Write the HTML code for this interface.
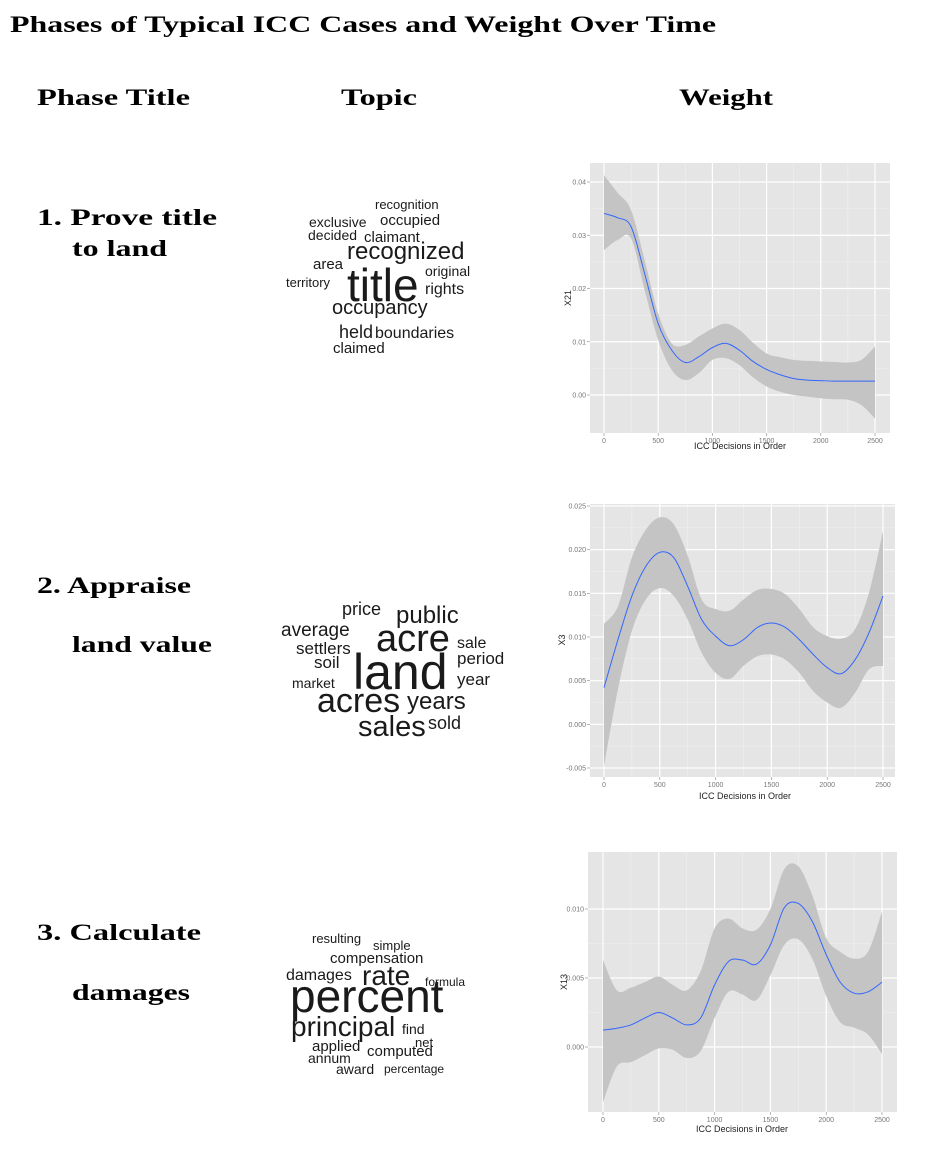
<!DOCTYPE html>
<html><head><meta charset="utf-8"><style>
html,body{margin:0;padding:0;background:#fff;}
svg{display:block;}
.hd{font-family:"Liberation Serif",serif;font-weight:bold;fill:#000;}
.wc{font-family:"Liberation Sans",sans-serif;fill:#1a1a1a;}
.tk{font-family:"Liberation Sans",sans-serif;font-size:7px;fill:#777;}
.at{font-family:"Liberation Sans",sans-serif;font-size:9px;fill:#222;}
</style></head><body>
<svg id="page" width="925" height="1151" viewBox="0 0 925 1151" xmlns="http://www.w3.org/2000/svg">
<text class="hd" x="10" y="32" font-size="23" textLength="706" lengthAdjust="spacingAndGlyphs">Phases of Typical ICC Cases and Weight Over Time</text>
<text class="hd" x="37" y="105" font-size="23" textLength="153" lengthAdjust="spacingAndGlyphs">Phase Title</text>
<text class="hd" x="341" y="105" font-size="23" textLength="76" lengthAdjust="spacingAndGlyphs">Topic</text>
<text class="hd" x="679" y="105" font-size="23" textLength="94" lengthAdjust="spacingAndGlyphs">Weight</text>

<text class="hd" x="37" y="225" font-size="23" textLength="180" lengthAdjust="spacingAndGlyphs">1. Prove title</text>
<text class="hd" x="72" y="256" font-size="23" textLength="95" lengthAdjust="spacingAndGlyphs">to land</text>
<text class="hd" x="37" y="593" font-size="23" textLength="154" lengthAdjust="spacingAndGlyphs">2. Appraise</text>
<text class="hd" x="72" y="652" font-size="23" textLength="140" lengthAdjust="spacingAndGlyphs">land value</text>
<text class="hd" x="37" y="940" font-size="23" textLength="164" lengthAdjust="spacingAndGlyphs">3. Calculate</text>
<text class="hd" x="72" y="1000" font-size="23" textLength="118" lengthAdjust="spacingAndGlyphs">damages</text>

<g>
<text class="wc" x="375" y="209" font-size="13">recognition</text>
<text class="wc" x="309" y="227" font-size="14">exclusive</text>
<text class="wc" x="380" y="225" font-size="15">occupied</text>
<text class="wc" x="308" y="240" font-size="14">decided</text>
<text class="wc" x="364" y="242" font-size="15">claimant</text>
<text class="wc" x="347" y="259" font-size="24">recognized</text>
<text class="wc" x="313" y="269" font-size="15">area</text>
<text class="wc" x="425" y="276" font-size="14">original</text>
<text class="wc" x="286" y="287" font-size="13">territory</text>
<text class="wc" x="347" y="301" font-size="46">title</text>
<text class="wc" x="425" y="294" font-size="16">rights</text>
<text class="wc" x="332" y="314" font-size="20">occupancy</text>
<text class="wc" x="339" y="338" font-size="18">held</text>
<text class="wc" x="375" y="338" font-size="16">boundaries</text>
<text class="wc" x="333" y="353" font-size="15">claimed</text>
</g>

<g>
<text class="wc" x="342" y="615" font-size="18">price</text>
<text class="wc" x="396" y="623" font-size="24">public</text>
<text class="wc" x="281" y="636" font-size="19">average</text>
<text class="wc" x="376" y="651" font-size="38">acre</text>
<text class="wc" x="457" y="648" font-size="16">sale</text>
<text class="wc" x="296" y="654" font-size="17">settlers</text>
<text class="wc" x="457" y="664" font-size="17">period</text>
<text class="wc" x="314" y="668" font-size="17">soil</text>
<text class="wc" x="353" y="689" font-size="50">land</text>
<text class="wc" x="292" y="688" font-size="14">market</text>
<text class="wc" x="457" y="685" font-size="17">year</text>
<text class="wc" x="317" y="712" font-size="34">acres</text>
<text class="wc" x="407" y="709" font-size="24">years</text>
<text class="wc" x="358" y="736" font-size="29">sales</text>
<text class="wc" x="428" y="729" font-size="18">sold</text>
</g>

<g>
<text class="wc" x="312" y="943" font-size="13">resulting</text>
<text class="wc" x="373" y="950" font-size="13">simple</text>
<text class="wc" x="330" y="963" font-size="15">compensation</text>
<text class="wc" x="286" y="980" font-size="16">damages</text>
<text class="wc" x="362" y="985" font-size="28">rate</text>
<text class="wc" x="425" y="986" font-size="12">formula</text>
<text class="wc" x="290" y="1012" font-size="46">percent</text>
<text class="wc" x="291" y="1036" font-size="28">principal</text>
<text class="wc" x="402" y="1034" font-size="14">find</text>
<text class="wc" x="415" y="1047" font-size="13">net</text>
<text class="wc" x="312" y="1051" font-size="15">applied</text>
<text class="wc" x="367" y="1056" font-size="15">computed</text>
<text class="wc" x="308" y="1063" font-size="14">annum</text>
<text class="wc" x="336" y="1074" font-size="14">award</text>
<text class="wc" x="384" y="1073" font-size="12">percentage</text>
</g>
<g id="charts"></g>
</svg>
<script>
const xValues = [0,125,250,375,500,625,750,875,1000,1125,1250,1375,1500,1625,1750,1875,2000,2125,2250,2375,2500];
const xTicks = [0,500,1000,1500,2000,2500];
const xTickLabels = ["0","500","1000","1500","2000","2500"];

const x21Mean = [.0341,.0333,.0316,.0228,.0134,.0084,.0061,.0072,.0089,.0097,.0084,.0063,.0048,.0038,.0031,.0028,.0027,.0026,.0026,.0026,.0026];
const x21Upper = [.0413,.038,.0347,.0253,.0153,.0097,.0094,.011,.0125,.0134,.0122,.0098,.0078,.0071,.0066,.0064,.0063,.0062,.0061,.0066,.0091];
const x21Lower = [.0272,.0291,.0294,.0197,.0103,.0047,.0028,.0041,.0066,.0069,.0056,.0033,.0016,.0006,0,-.0003,-.0006,-.0008,-.0009,-.0019,-.0044];
const x21Ticks = [0,0.01,0.02,0.03,0.04];
const x21TickLabels = ["0.00","0.01","0.02","0.03","0.04"];

const x3Mean = [.0042,.0097,.0147,.0181,.0197,.0191,.0158,.012,.0101,.009,.0097,.0111,.0116,.0111,.0097,.008,.0065,.0058,.0074,.0105,.0147];
const x3Upper = [.0115,.0135,.0191,.0223,.0237,.0229,.0193,.0143,.0132,.013,.0143,.0154,.0155,.0149,.0132,.0111,.0101,.0098,.0109,.0151,.0221];
const x3Lower = [-.0048,.004,.0107,.0143,.0156,.0147,.012,.0082,.0059,.0052,.0067,.0078,.008,.0074,.0059,.0038,.0025,.0019,.0036,.0063,.0067];
const x3Ticks = [-0.005,0,0.005,0.01,0.015,0.02,0.025];
const x3TickLabels = ["-0.005","0.000","0.005","0.010","0.015","0.020","0.025"];

const x13Mean = [.00123,.00136,.0016,.0021,.0025,.0021,.0016,.0021,.0045,.0062,.0063,.006,.0074,.0101,.0104,.0091,.0067,.0047,.0039,.004,.0047];
const x13Upper = [.0063,.0041,.0043,.0047,.0051,.0045,.0041,.0055,.0086,.0093,.0086,.0085,.01,.0129,.0131,.011,.0079,.0069,.0064,.0069,.0098];
const x13Lower = [-.004,-.0014,-.0011,-.0006,-.0001,-.0002,-.0008,-.0003,.0021,.004,.0038,.0034,.0052,.0074,.0078,.0064,.0037,.0018,.0014,.0009,-.0005];
const x13Ticks = [0,0.005,0.01];
const x13TickLabels = ["0.000","0.005","0.010"];

const NS = "http://www.w3.org/2000/svg";
function mk(tag, attrs, parent){ const e=document.createElementNS(NS,tag); for(const k in attrs) e.setAttribute(k,attrs[k]); parent.appendChild(e); return e; }
function smooth(pts){
  let d="M"+pts[0][0].toFixed(2)+","+pts[0][1].toFixed(2);
  for(let i=0;i<pts.length-1;i++){
    const p0=pts[Math.max(0,i-1)],p1=pts[i],p2=pts[i+1],p3=pts[Math.min(pts.length-1,i+2)];
    const c1=[p1[0]+(p2[0]-p0[0])/6,p1[1]+(p2[1]-p0[1])/6], c2=[p2[0]-(p3[0]-p1[0])/6,p2[1]-(p3[1]-p1[1])/6];
    d+="C"+c1[0].toFixed(2)+","+c1[1].toFixed(2)+" "+c2[0].toFixed(2)+","+c2[1].toFixed(2)+" "+p2[0].toFixed(2)+","+p2[1].toFixed(2);
  }
  return d;
}
function chart(cfg, name){
  const root=document.getElementById("charts");
  const g=mk("g",{},root);
  
  
  const sx=v=>cfg.x0+(v-0)/(2500)*(cfg.x1-cfg.x0);
  const sy=v=>cfg.ya+(v-cfg.va)/(cfg.vb-cfg.va)*(cfg.yb-cfg.ya);
  const panel=mk("rect",{x:cfg.px,y:cfg.py,width:cfg.pw,height:cfg.ph,fill:"#e5e5e5"},g);
  
  
  for(let i=0;i<xTicks.length-1;i++){ const m=sx((xTicks[i]+xTicks[i+1])/2); mk("line",{x1:m,x2:m,y1:cfg.py,y2:cfg.py+cfg.ph,stroke:"#f0f0f0","stroke-width":0.6},g); }
  for(let i=0;i<cfg.yt.length-1;i++){ const m=sy((cfg.yt[i]+cfg.yt[i+1])/2); mk("line",{x1:cfg.px,x2:cfg.px+cfg.pw,y1:m,y2:m,stroke:"#f0f0f0","stroke-width":0.6},g); }
  xTicks.forEach((t,i)=>{
    const x=sx(t);
    const gl=mk("line",{x1:x,x2:x,y1:cfg.py,y2:cfg.py+cfg.ph,stroke:"#fff","stroke-width":1.2},g);
    
    
    mk("line",{x1:x,x2:x,y1:cfg.py+cfg.ph,y2:cfg.py+cfg.ph+3,stroke:"#888","stroke-width":0.6},g);
    const tl=mk("text",{x:x,y:cfg.py+cfg.ph+10,"text-anchor":"middle",class:"tk"},g);
    tl.textContent=xTickLabels[i];
    
    
  });
  cfg.yt.forEach((t,i)=>{
    const y=sy(t);
    const gl=mk("line",{x1:cfg.px,x2:cfg.px+cfg.pw,y1:y,y2:y,stroke:"#fff","stroke-width":1.2},g);
    
    
    mk("line",{x1:cfg.px-3,x2:cfg.px,y1:y,y2:y,stroke:"#888","stroke-width":0.6},g);
    const tl=mk("text",{x:cfg.px-4,y:y+2.5,"text-anchor":"end",class:"tk"},g);
    tl.textContent=cfg.ytl[i];
    
    
  });
  const up=xValues.map((x,i)=>[sx(x),sy(cfg.upper[i])]);
  const lo=xValues.map((x,i)=>[sx(x),sy(cfg.lower[i])]).reverse();
  const dUp=smooth(up), dLo=smooth(lo);
  const band=mk("path",{d:dUp+"L"+dLo.slice(1)+"Z",fill:"#c4c4c4"},g);
  
  
  const ln=mk("path",{d:smooth(xValues.map((x,i)=>[sx(x),sy(cfg.mean[i])])),fill:"none",stroke:"#3366ff","stroke-width":1},g);
  
  
  const xt=mk("text",{x:cfg.xtx,y:cfg.xty,"text-anchor":"middle",class:"at"},g);
  xt.textContent="ICC Decisions in Order";
  
  
  const yt=mk("text",{x:cfg.ytx,y:cfg.yty,"text-anchor":"middle",class:"at",transform:"rotate(-90 "+cfg.ytx+" "+cfg.yty+")"},g);
  yt.textContent=cfg.ylab;
  
  
}
chart({px:590,py:163,pw:300,ph:270,x0:604,x1:875,va:0.04,ya:182,vb:0,yb:395,yt:x21Ticks,ytl:x21TickLabels,mean:x21Mean,upper:x21Upper,lower:x21Lower,xtx:740,xty:449,ytx:571,yty:298,ylab:"X21"},"chart-x21");
chart({px:590,py:504,pw:305,ph:273,x0:604,x1:883,va:0.025,ya:506,vb:-0.005,yb:768,yt:x3Ticks,ytl:x3TickLabels,mean:x3Mean,upper:x3Upper,lower:x3Lower,xtx:745,xty:799,ytx:565,yty:640,ylab:"X3"},"chart-x3");
chart({px:588,py:852,pw:309,ph:260,x0:603,x1:882,va:0.010,ya:909,vb:0,yb:1047,yt:x13Ticks,ytl:x13TickLabels,mean:x13Mean,upper:x13Upper,lower:x13Lower,xtx:742,xty:1132,ytx:567,yty:982,ylab:"X13"},"chart-x13");
</script>
</body></html>
